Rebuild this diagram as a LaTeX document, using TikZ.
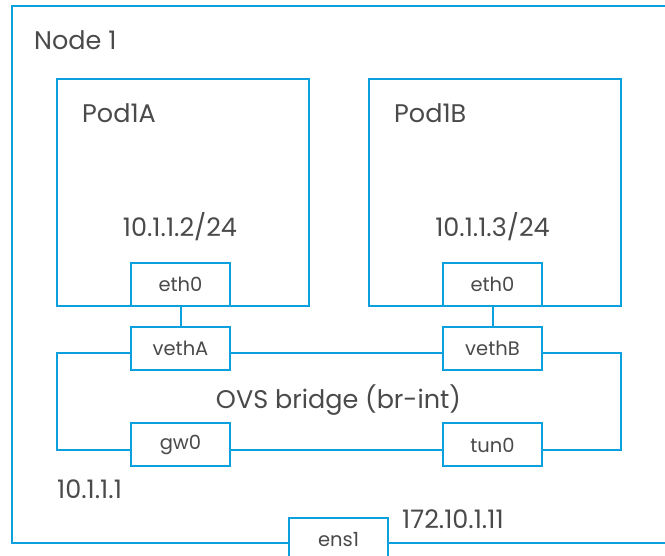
\documentclass[tikz,border=0pt]{standalone}
\usepackage{fontspec}
\setmainfont{Poppins}
\definecolor{vblue}{HTML}{0CA0DC}
\definecolor{tgray}{HTML}{4A4A4A}
\begin{document}
\begin{tikzpicture}[x=1pt,y=-1pt,
  box/.style={draw=vblue,line width=2pt},
  port/.style={draw=vblue,line width=2pt,fill=white,minimum width=99pt,minimum height=43pt,inner sep=0pt,font=\fontsize{19.5}{21}\selectfont,text=tgray},
  lbl/.style={font=\fontsize{25.5}{27}\selectfont,text=tgray,inner sep=0pt},
  link/.style={draw=vblue,line width=2pt}]
\useasboundingbox (0,0) rectangle (665,556);
% outer node box (right edge outside picture)
\draw[box] (680,6) -- (12,6) -- (12,543) -- (680,543);
\node[lbl,anchor=base west] (node1) at (34,50) {Node 1};
% pods
\draw[box] (57,79) rectangle (309,306);
\draw[box] (369,79) rectangle (621,306);
\node[lbl,anchor=base west] (podA) at (82,123) {Pod1A};
\node[lbl,anchor=base west] (podB) at (394,123) {Pod1B};
\node[lbl,anchor=base] (ipA) at (180,237) {10.1.1.2/24};
\node[lbl,anchor=base] (ipB) at (492.5,237) {10.1.1.3/24};
% ports
\node[port] (ethA) at (180.5,284.5) {eth0};
\node[port] (ethB) at (492.5,284.5) {eth0};
\node[port] (vethA) at (180.5,348.5) {vethA};
\node[port] (vethB) at (492.5,348.5) {vethB};
\node[port] (gw) at (180.5,445) {gw0};
\node[port] (tun) at (492.5,445) {tun0};
\node[port,anchor=north] (ens) at (338.5,517) {ens1};
% links
\draw[link] (ethA) -- (vethA);
\draw[link] (ethB) -- (vethB);
\draw[link] ([yshift=-5pt]vethA.east) -- ([yshift=-5pt]vethB.west);
\draw[link] ([yshift=-5pt]gw.east) -- ([yshift=-5pt]tun.west);
\draw[link] ([yshift=-5pt]vethA.west) -| (57,450) -- ([yshift=-5pt]gw.west);
\draw[link] ([yshift=-5pt]vethB.east) -| (621,450) -- ([yshift=-5pt]tun.east);
\node[lbl,anchor=base] (ovs) at (338.5,409) {OVS bridge (br-int)};
\node[lbl,anchor=base west] (gwip) at (57,498) {10.1.1.1};
\node[lbl,anchor=base west] (ensip) at (402,529) {172.10.1.11};
\end{tikzpicture}
\end{document}
